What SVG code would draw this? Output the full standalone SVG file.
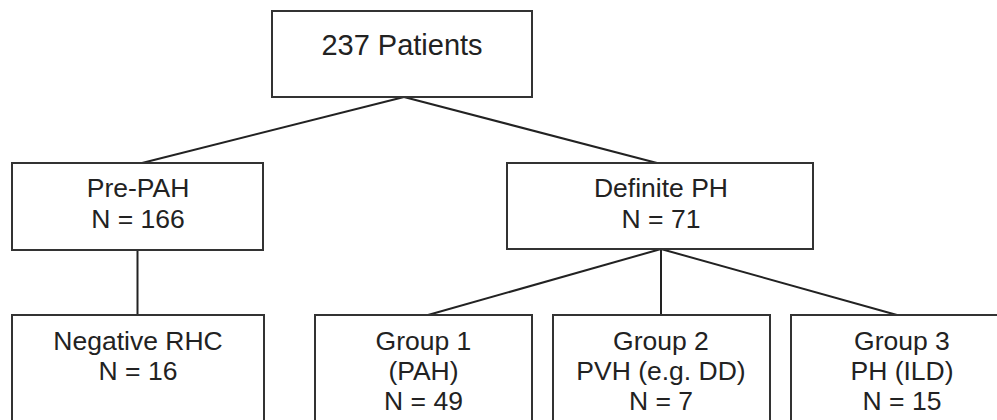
<svg xmlns="http://www.w3.org/2000/svg" width="997" height="420" viewBox="0 0 997 420">
<style>
.box{fill:#fff;stroke:#333;stroke-width:2}
.t{font-family:"Liberation Sans",Arial,sans-serif;font-size:26.5px;fill:#222;text-anchor:middle}
.big{font-size:29px}
.c{stroke:#222;stroke-width:2;fill:none}
</style>
<rect width="997" height="420" fill="#fff"/>
<g id="connectors">
<line class="c" x1="404" y1="97" x2="142" y2="163"/>
<line class="c" x1="404" y1="97" x2="657" y2="163"/>
<line class="c" x1="137.5" y1="250" x2="137.5" y2="315"/>
<line class="c" x1="661" y1="249" x2="428" y2="315"/>
<line class="c" x1="661" y1="249" x2="661" y2="315"/>
<line class="c" x1="661" y1="249" x2="897" y2="315"/>
</g>
<g id="n-root">
<rect class="box" x="272" y="11" width="260" height="86"/>
<text class="t big" x="402" y="55">237 Patients</text>
</g>
<g id="n-prepah">
<rect class="box" x="12" y="163" width="251" height="87"/>
<text class="t" x="138" y="197">Pre-PAH</text>
<text class="t" x="138" y="228">N = 166</text>
</g>
<g id="n-definite">
<rect class="box" x="507" y="163" width="306" height="86"/>
<text class="t" x="661" y="197">Definite PH</text>
<text class="t" x="661" y="228">N = 71</text>
</g>
<g id="n-neg">
<rect class="box" x="12" y="315" width="252" height="130"/>
<text class="t" x="138" y="350">Negative RHC</text>
<text class="t" x="138" y="380">N = 16</text>
</g>
<g id="n-g1">
<rect class="box" x="315" y="315" width="217" height="130"/>
<text class="t" x="423.5" y="350">Group 1</text>
<text class="t" x="423.5" y="380">(PAH)</text>
<text class="t" x="423.5" y="410">N = 49</text>
</g>
<g id="n-g2">
<rect class="box" x="553" y="315" width="217" height="130"/>
<text class="t" x="661" y="350">Group 2</text>
<text class="t" x="661" y="380">PVH (e.g. DD)</text>
<text class="t" x="661" y="410">N = 7</text>
</g>
<g id="n-g3">
<rect class="box" x="791" y="315" width="222" height="130"/>
<text class="t" x="902" y="350">Group 3</text>
<text class="t" x="902" y="380">PH (ILD)</text>
<text class="t" x="902" y="410">N = 15</text>
</g>
</svg>
